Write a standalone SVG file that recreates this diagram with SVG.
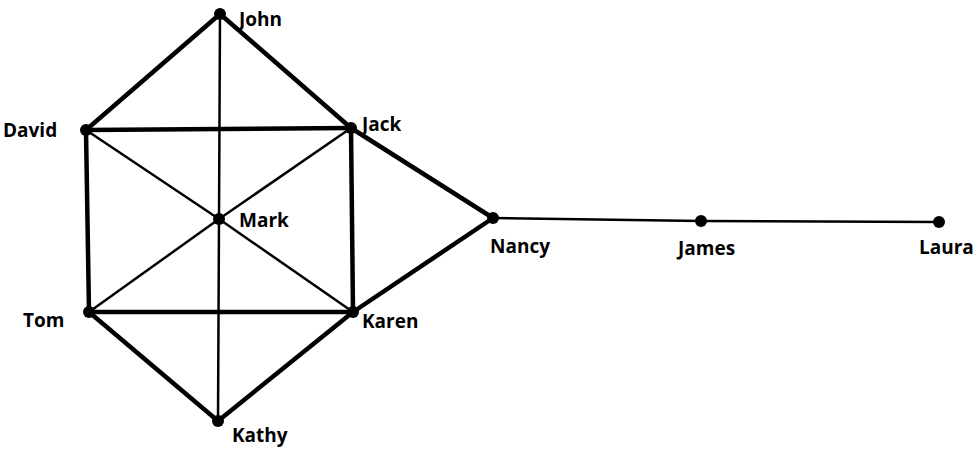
<svg xmlns="http://www.w3.org/2000/svg" width="979" height="449" viewBox="0 0 979 449">
  <style>
    .thick { stroke: #000; stroke-width: 4.5; stroke-linecap: round; fill: none; }
    .thin { stroke: #000; stroke-width: 2.5; stroke-linecap: round; fill: none; }
    .dot { fill: #000; }
    .lbl { font-family: "Open Sans", "Liberation Sans", sans-serif; font-weight: bold; font-size: 19px; fill: #000; }
  </style>
  <rect width="979" height="449" fill="#fff"/>
  <g id="connectors">
    <line class="thick" x1="220" y1="14" x2="86" y2="130"/>
    <line class="thick" x1="220" y1="14" x2="351" y2="128"/>
    <line class="thick" x1="86" y1="130" x2="351" y2="128"/>
    <line class="thick" x1="86" y1="130" x2="89" y2="312"/>
    <line class="thick" x1="351" y1="128" x2="353" y2="312"/>
    <line class="thick" x1="89" y1="312" x2="353" y2="312"/>
    <line class="thick" x1="89" y1="312" x2="218" y2="421"/>
    <line class="thick" x1="353" y1="312" x2="218" y2="421"/>
    <line class="thick" x1="351" y1="128" x2="493" y2="218"/>
    <line class="thick" x1="353" y1="312" x2="493" y2="218"/>
    <line class="thin" x1="220" y1="14" x2="219" y2="219"/>
    <line class="thin" x1="219" y1="219" x2="218" y2="421"/>
    <line class="thin" x1="86" y1="130" x2="219" y2="219"/>
    <line class="thin" x1="219" y1="219" x2="353" y2="312"/>
    <line class="thin" x1="351" y1="128" x2="219" y2="219"/>
    <line class="thin" x1="219" y1="219" x2="89" y2="312"/>
    <line class="thin" x1="493" y1="218" x2="701" y2="221"/>
    <line class="thin" x1="701" y1="221" x2="939" y2="222"/>
  </g>
  <g id="john"><circle class="dot" cx="220" cy="14" r="6"/><text class="lbl" x="239" y="26">John</text></g>
  <g id="david"><circle class="dot" cx="86" cy="130" r="6"/><text class="lbl" x="3" y="137">David</text></g>
  <g id="jack"><circle class="dot" cx="351" cy="128" r="6"/><text class="lbl" x="362" y="131">Jack</text></g>
  <g id="mark"><circle class="dot" cx="219" cy="219" r="6"/><text class="lbl" x="239" y="227">Mark</text></g>
  <g id="tom"><circle class="dot" cx="89" cy="312" r="6"/><text class="lbl" x="23" y="327">Tom</text></g>
  <g id="karen"><circle class="dot" cx="353" cy="312" r="6"/><text class="lbl" x="362" y="328">Karen</text></g>
  <g id="kathy"><circle class="dot" cx="218" cy="421" r="6"/><text class="lbl" x="232" y="442">Kathy</text></g>
  <g id="nancy"><circle class="dot" cx="493" cy="218" r="6"/><text class="lbl" x="490" y="253">Nancy</text></g>
  <g id="james"><circle class="dot" cx="701" cy="221" r="6"/><text class="lbl" x="678" y="255">James</text></g>
  <g id="laura"><circle class="dot" cx="939" cy="222" r="6"/><text class="lbl" x="919" y="254">Laura</text></g>
</svg>
